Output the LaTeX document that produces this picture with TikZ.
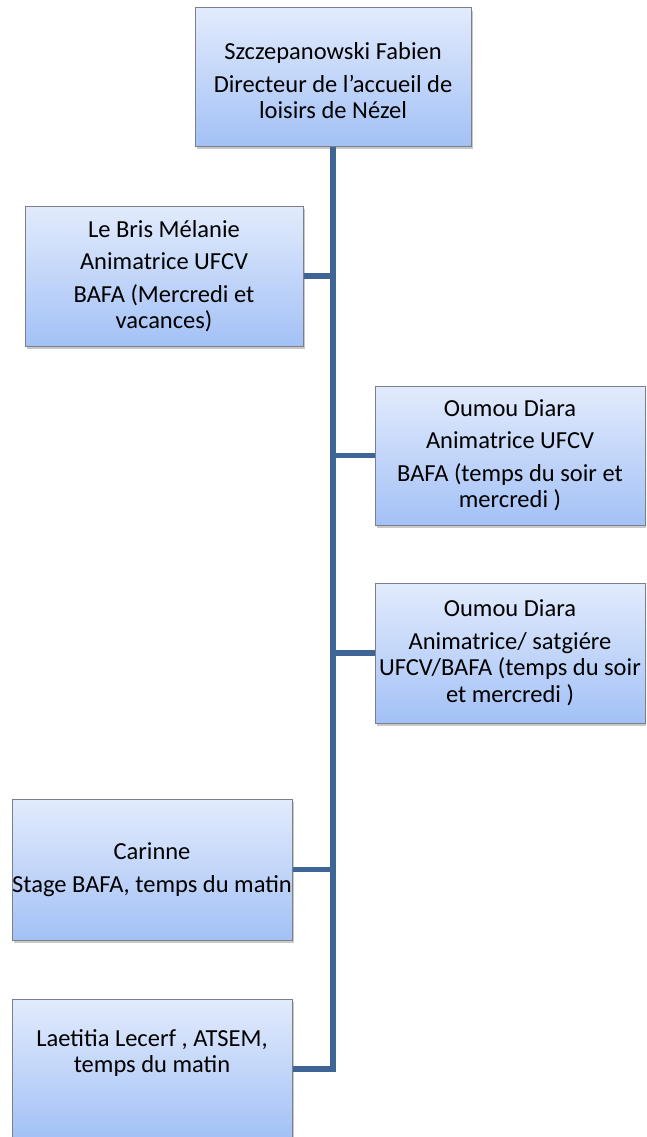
\documentclass[tikz,border=0pt]{standalone}
\usepackage{fontspec}
\setmainfont{Carlito}
\usetikzlibrary{shadows}
\definecolor{boxtop}{HTML}{E2EBFC}
\definecolor{boxbot}{HTML}{A3C1F6}
\definecolor{boxedge}{HTML}{7A7F88}
\definecolor{conncol}{HTML}{3F6597}
\tikzset{
  orgbox/.style={draw=boxedge, line width=1pt, top color=boxtop, bottom color=boxbot,
    minimum width=#1, inner sep=0pt, align=center, text=black,
    font=\fontsize{24.5}{26.5}\selectfont,
    drop shadow={shadow xshift=2pt, shadow yshift=-3pt, opacity=0.35, fill=black!60}},
  orgtext/.style={align=center, text=black, font=\fontsize{24.5}{26.5}\selectfont, inner sep=0pt},
  conn/.style={draw=conncol, line width=5.5pt, line join=miter, line cap=butt}
}
\begin{document}
\begin{tikzpicture}[x=1pt,y=-1pt]
\useasboundingbox (0,0) rectangle (646,1137);
\fill[white] (0,0) rectangle (646,1137);
\begin{scope}
\clip (0,0) rectangle (646,1137);
\node[orgbox=276pt, minimum height=138pt] (top) at (333,77) {};
\node[orgtext] (toptext) at (333,81)
  {Szczepanowski Fabien\\[6pt]Directeur de l’accueil de\\loisirs de Nézel};
\node[orgbox=278pt, minimum height=140pt] (lebris) at (164,276)
  {Le Bris Mélanie\\[6pt]Animatrice UFCV\\[6pt]BAFA (Mercredi et\\vacances)};
\node[orgbox=270pt, minimum height=139pt] (oumoua) at (510,455.5)
  {Oumou Diara\\[6pt]Animatrice UFCV\\[6pt]BAFA (temps du soir et\\mercredi )};
\node[orgbox=270pt, minimum height=140pt] (oumoub) at (510,653)
  {Oumou Diara\\[6pt]Animatrice/ satgiére\\UFCV/BAFA (temps du soir\\et mercredi )};
\node[orgbox=280pt, minimum height=141pt] (carinne) at (152,869.5)
  {Carinne\\[6pt]Stage BAFA, temps du matin};
\node[orgbox=280pt, minimum height=140pt] (laetitia) at (152,1069) {};
\node[orgtext] (laetitiatext) at (152,1053) {Laetitia Lecerf , ATSEM,\\temps du matin};
\coordinate (corner) at (top.south |- laetitia.east);
\draw[conn] (top.south) -- (corner) -- (laetitia.east);
\draw[conn] (lebris.east) -- (top.south |- lebris.east);
\draw[conn] (oumoua.west) -- (top.south |- oumoua.west);
\draw[conn] (oumoub.west) -- (top.south |- oumoub.west);
\draw[conn] (carinne.east) -- (top.south |- carinne.east);
\end{scope}
\end{tikzpicture}
\end{document}
